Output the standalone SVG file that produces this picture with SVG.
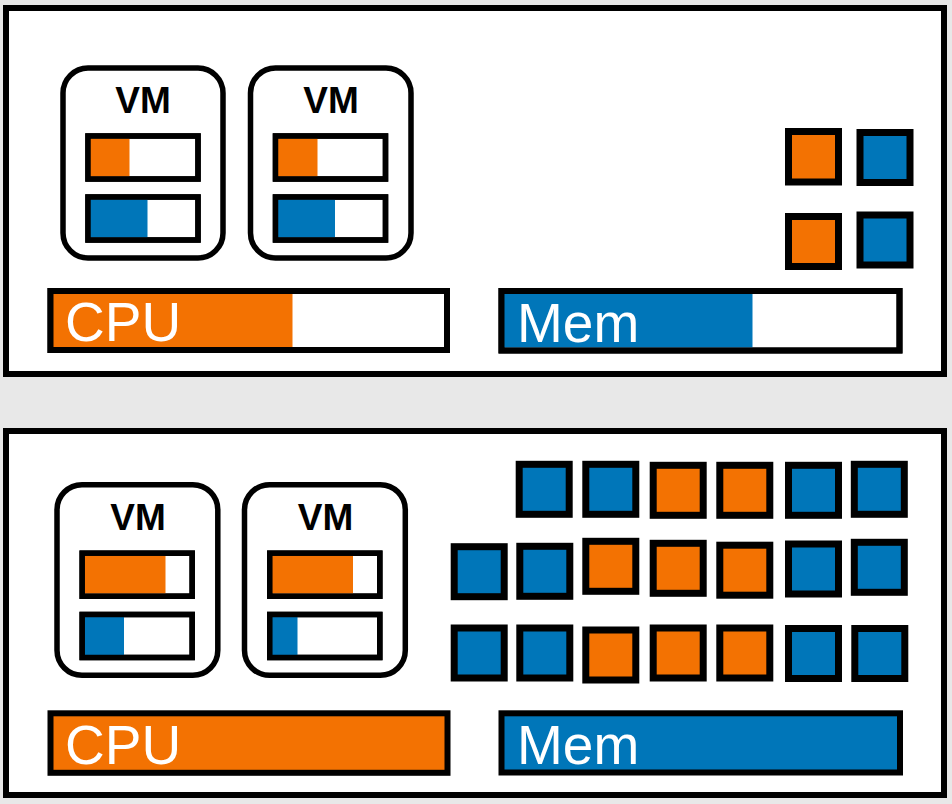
<svg xmlns="http://www.w3.org/2000/svg" width="952" height="804" viewBox="0 0 952 804">
<style>
.panel{fill:#fff;stroke:#000;stroke-width:6}
.vm{fill:#fff;stroke:#000;stroke-width:5.5}
.bar{fill:#fff;stroke:#000;stroke-width:5.5}
.frame{fill:none;stroke:#000;stroke-width:5.5}
.big{fill:#fff;stroke:#000;stroke-width:6}
.bigf{fill:none;stroke:#000;stroke-width:6}
.o{fill:#f37202}
.b{fill:#0076b9}
.sq{stroke:#000;stroke-width:7}
.vmt{font-family:"Liberation Sans",Arial,sans-serif;font-weight:bold;font-size:37px;fill:#000;text-anchor:middle}
.lbl{font-family:"Liberation Sans",Arial,sans-serif;font-size:55px;fill:#fff}
</style>
<rect x="0" y="0" width="952" height="804" fill="#e8e8e8"/>

<g id="host-top">
<rect class="panel" x="6" y="8" width="938" height="366"/>
</g>
<g id="host-bottom">
<rect class="panel" x="6" y="431" width="938" height="364"/>
</g>

<g id="vm-top-1">
<rect class="vm" x="63" y="68" width="160" height="190" rx="25"/>
<text class="vmt" x="143" y="113">VM</text>
<rect class="bar" x="88" y="136" width="110" height="43"/>
<rect class="o" x="90" y="138.5" width="39.5" height="38"/>
<rect class="frame" x="88" y="136" width="110" height="43"/>
<rect class="bar" x="88" y="197" width="110" height="43"/>
<rect class="b" x="90" y="199.5" width="57.5" height="38"/>
<rect class="frame" x="88" y="197" width="110" height="43"/>
</g>
<g id="vm-top-2">
<rect class="vm" x="250.5" y="68" width="160.5" height="190" rx="25"/>
<text class="vmt" x="331" y="113">VM</text>
<rect class="bar" x="275.5" y="136" width="110" height="43"/>
<rect class="o" x="277.5" y="138.5" width="40" height="38"/>
<rect class="frame" x="275.5" y="136" width="110" height="43"/>
<rect class="bar" x="275.5" y="197" width="110" height="43"/>
<rect class="b" x="277.5" y="199.5" width="57.5" height="38"/>
<rect class="frame" x="275.5" y="197" width="110" height="43"/>
</g>
<g id="cpu-top">
<rect class="big" x="50.5" y="291" width="396.5" height="59"/>
<rect class="o" x="53" y="294" width="239.5" height="53"/>
<rect class="bigf" x="50.5" y="291" width="396.5" height="59"/>
<text class="lbl" x="65" y="341">CPU</text>
</g>
<g id="mem-top">
<rect class="big" x="501.5" y="291" width="398" height="59.5"/>
<rect class="b" x="504" y="294" width="248.5" height="53.5"/>
<rect class="bigf" x="501.5" y="291" width="398" height="59.5"/>
<text class="lbl" x="517" y="342">Mem</text>
</g>
<g id="free-top">
<rect class="sq o" x="788.5" y="131.5" width="50" height="50.5"/>
<rect class="sq b" x="860" y="132.5" width="50" height="50"/>
<rect class="sq o" x="788.5" y="216.5" width="50" height="50"/>
<rect class="sq b" x="860" y="215" width="50" height="50"/>
</g>

<g id="vm-bottom-1">
<rect class="vm" x="57" y="484.7" width="160.8" height="190.6" rx="25"/>
<text class="vmt" x="138" y="530">VM</text>
<rect class="bar" x="82.2" y="553.2" width="110" height="43"/>
<rect class="o" x="84.5" y="555.5" width="81" height="38"/>
<rect class="frame" x="82.2" y="553.2" width="110" height="43"/>
<rect class="bar" x="82.2" y="614.5" width="110" height="43"/>
<rect class="b" x="84.5" y="617" width="39.5" height="38"/>
<rect class="frame" x="82.2" y="614.5" width="110" height="43"/>
</g>
<g id="vm-bottom-2">
<rect class="vm" x="244.5" y="484.7" width="160.8" height="190.6" rx="25"/>
<text class="vmt" x="325.5" y="530">VM</text>
<rect class="bar" x="269.8" y="553.2" width="110" height="43"/>
<rect class="o" x="272" y="555.5" width="81" height="38"/>
<rect class="frame" x="269.8" y="553.2" width="110" height="43"/>
<rect class="bar" x="269.8" y="614.5" width="110" height="43"/>
<rect class="b" x="272" y="617" width="25.5" height="38"/>
<rect class="frame" x="269.8" y="614.5" width="110" height="43"/>
</g>
<g id="cpu-bottom">
<rect class="big o" x="50.5" y="713.3" width="397" height="59.5"/>
<text class="lbl" x="65" y="763.5">CPU</text>
</g>
<g id="mem-bottom">
<rect class="big b" x="501.5" y="713.3" width="398.5" height="59.2"/>
<text class="lbl" x="517" y="764">Mem</text>
</g>
<g id="used-bottom">
<rect class="sq b" x="519.2" y="464.3" width="50" height="50"/>
<rect class="sq b" x="585.8" y="464.3" width="50" height="50"/>
<rect class="sq o" x="653.2" y="465.3" width="50" height="50"/>
<rect class="sq o" x="719.8" y="465.3" width="50" height="50"/>
<rect class="sq b" x="788.5" y="465.3" width="50" height="50"/>
<rect class="sq b" x="854.3" y="464.3" width="50" height="50"/>

<rect class="sq b" x="454.2" y="546.7" width="50" height="50"/>
<rect class="sq b" x="519.8" y="546.3" width="50" height="50"/>
<rect class="sq o" x="585.8" y="541.3" width="50" height="50"/>
<rect class="sq o" x="653.2" y="543.3" width="50" height="50"/>
<rect class="sq o" x="719.8" y="545.2" width="50" height="50"/>
<rect class="sq b" x="788.5" y="544" width="50" height="50"/>
<rect class="sq b" x="854.3" y="542.3" width="50" height="50"/>

<rect class="sq b" x="454.2" y="628" width="50" height="50"/>
<rect class="sq b" x="519.8" y="628" width="50" height="50"/>
<rect class="sq o" x="585.8" y="630" width="50" height="50"/>
<rect class="sq o" x="653.2" y="628" width="50" height="50"/>
<rect class="sq o" x="719.8" y="628" width="50" height="50"/>
<rect class="sq b" x="788.5" y="628.5" width="50" height="50"/>
<rect class="sq b" x="854.8" y="628.5" width="50" height="50"/>
</g>
</svg>
